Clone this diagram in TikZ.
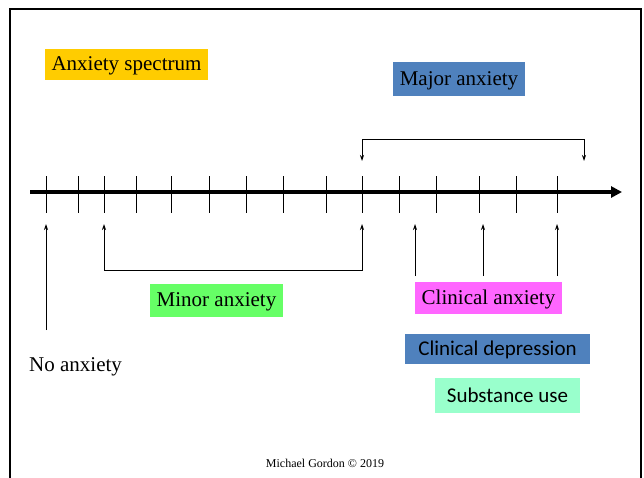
\documentclass[tikz,border=0pt]{standalone}
\usepackage{fontspec}
\setmainfont{Liberation Serif}
\newfontfamily\calib{Carlito}
\usetikzlibrary{arrows.meta}
\definecolor{cyellow}{HTML}{FFCC00}
\definecolor{cblue}{HTML}{4F81BD}
\definecolor{cgreen}{HTML}{66FF66}
\definecolor{cmag}{HTML}{FF66FF}
\definecolor{cmint}{HTML}{99FFCC}
\tikzset{
  lbl/.style={inner sep=0pt, font=\fontsize{21}{23}\selectfont, text=black},
  lblsans/.style={inner sep=0pt, font=\calib\fontsize{21}{23}\selectfont, text=black},
  tickmark/.style={line width=0.9pt},
  pointer/.style={line width=0.8pt, -{Stealth[length=6pt,width=4pt]}},
  bracket/.style={line width=0.8pt, {Stealth[length=6pt,width=4pt]}-{Stealth[length=6pt,width=4pt]}},
}
\begin{document}
\begin{tikzpicture}[x=1pt,y=-1pt]
\useasboundingbox (0,0) rectangle (644,477);
% frame
\draw[line width=2pt] (10,478) -- (10,9) -- (641,9) -- (641,478);
% axis
\coordinate (axs) at (30,192);
\coordinate (axe) at (622,192);
\draw[line width=3.5pt, -{Triangle[length=11pt,width=11pt]}] (axs) -- (axe);
\foreach \i/\x in {1/46,2/78,3/104,4/136,5/171,6/209,7/246,8/283,9/326,10/362,11/399,12/436,13/479,14/516,15/557}{
  \coordinate (t\i) at (\x,192);
  \draw[tickmark] (\x,176) -- (\x,213);
}
% labels
\node[lbl, fill=cyellow, minimum width=163pt, minimum height=31pt, text depth=1pt] (spec) at (126.5,64) {Anxiety spectrum};
\node[lbl, fill=cblue, minimum width=132pt, minimum height=34pt, text depth=1pt] (major) at (459,79) {Major anxiety};
\node[lbl, fill=cgreen, minimum width=133pt, minimum height=33pt, text depth=1pt] (minor) at (216.5,300.5) {Minor anxiety};
\node[lbl, fill=cmag, minimum width=147pt, minimum height=32pt, text depth=1pt] (clin) at (488.5,298) {Clinical anxiety};
\node[lblsans, fill=cblue, minimum width=185pt, minimum height=30pt, text depth=1pt] (dep) at (497.5,349) {Clinical depression};
\node[lblsans, fill=cmint, minimum width=145pt, minimum height=35pt, text depth=1pt] (sub) at (507.5,395.5) {Substance use};
\node[lbl, anchor=west] (none) at (29,367) {No anxiety};
\node[inner sep=0pt, font=\fontsize{12}{14}\selectfont] (copy) at (325,463) {Michael Gordon \textcopyright{} 2019};
% major bracket
\coordinate (mjL) at (362,161);
\coordinate (mjR) at (584,161);
\draw[bracket] (mjL) -- (362,139) -- (584,139) -- (mjR);
% minor bracket
\coordinate (mnL) at (104,224);
\coordinate (mnR) at (362,224);
\draw[bracket] (mnL) -- (104,270) -- (362,270) -- (mnR);
% no anxiety pointer
\coordinate (naB) at (46,330);
\coordinate (naT) at (46,224);
\draw[pointer] (naB) -- (naT);
% clinical pointers
\foreach \n/\x in {a/415,b/483,c/557}{
  \coordinate (c\n B) at (\x,276);
  \coordinate (c\n T) at (\x,224);
  \draw[pointer] (c\n B) -- (c\n T);
}
\end{tikzpicture}
\end{document}
